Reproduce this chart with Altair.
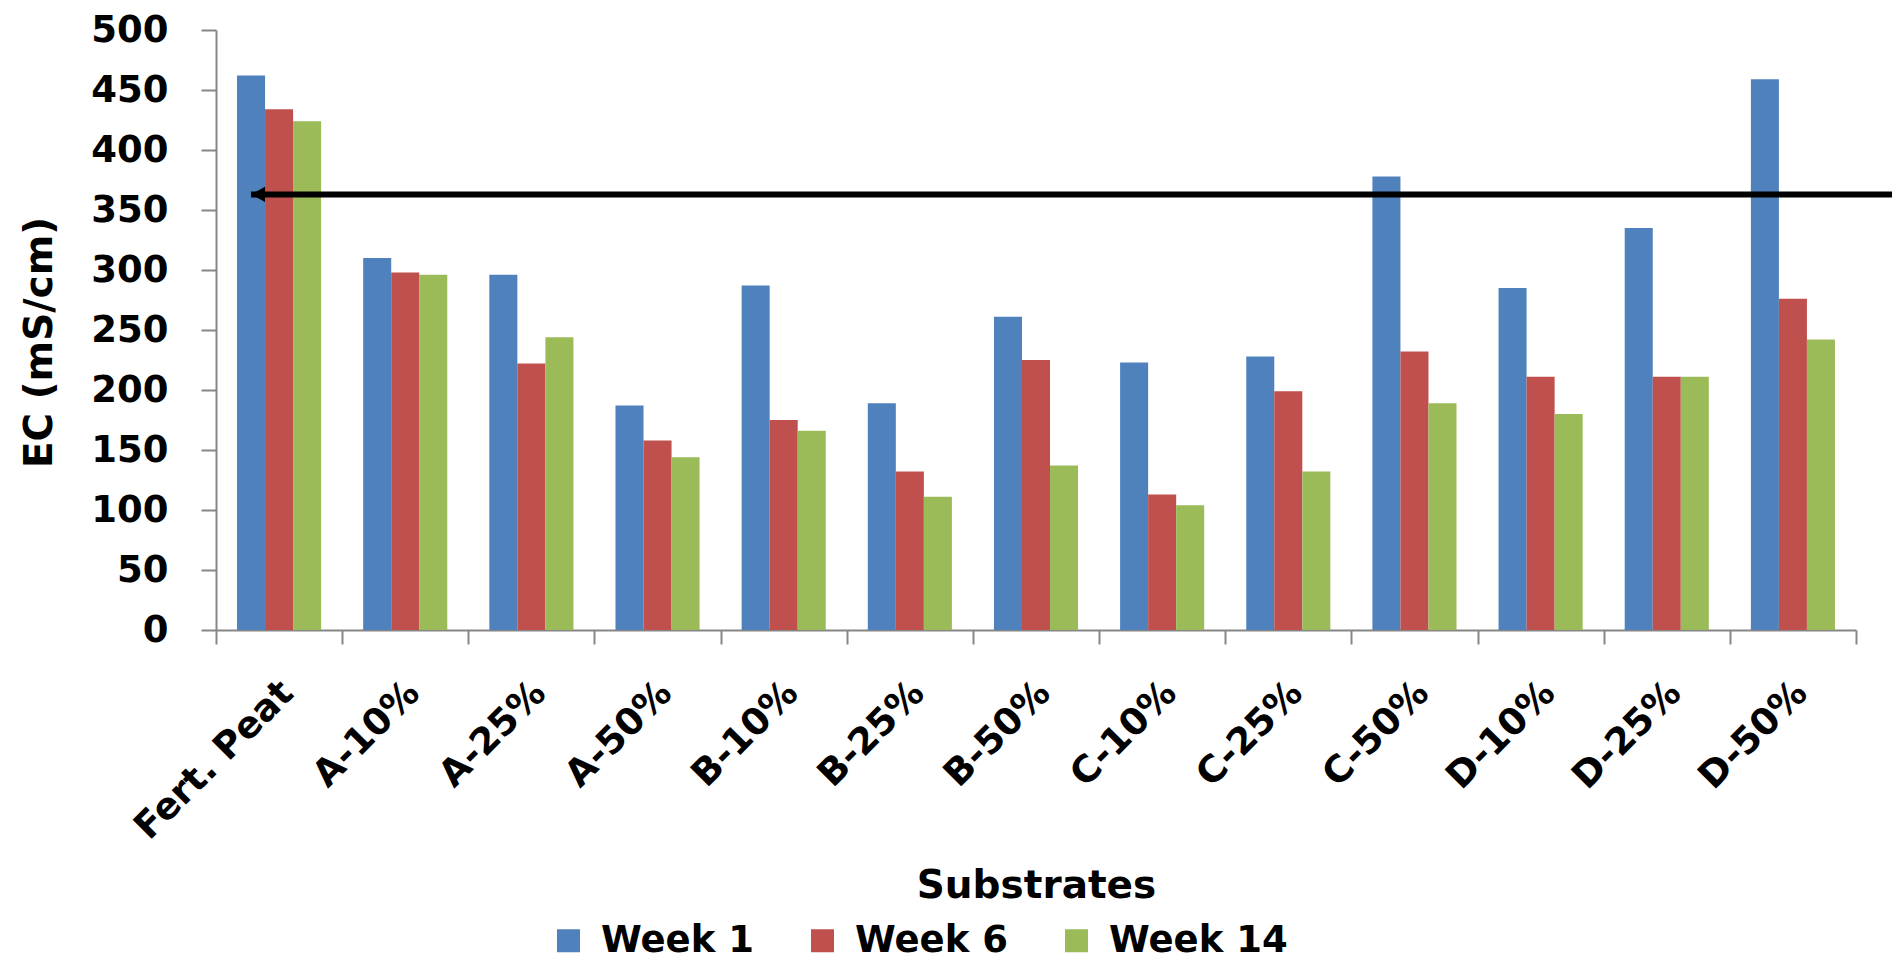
import altair as alt
import pandas as pd

substrates = ["Fert. Peat", "A-10%", "A-25%", "A-50%", "B-10%", "B-25%", "B-50%",
              "C-10%", "C-25%", "C-50%", "D-10%", "D-25%", "D-50%"]
weeks = ["Week 1", "Week 6", "Week 14"]
week1 = [462, 310, 296, 187, 287, 189, 261, 223, 228, 378, 285, 335, 459]
week6 = [434, 298, 222, 158, 175, 132, 225, 113, 199, 232, 211, 211, 276]
week14 = [424, 296, 244, 144, 166, 111, 137, 104, 132, 189, 180, 211, 242]
colors = ["#4F81BD", "#C0504D", "#9BBB59"]
y_ticks = [0, 50, 100, 150, 200, 250, 300, 350, 400, 450, 500]

# annotation arrow (points at Fert. Peat, Week 1 bar)
arrow_category = ["Fert. Peat"]
arrow_series = ["Week 1"]
arrow_value = [363]

rows = []
for w, vals in zip(weeks, [week1, week6, week14]):
    for s, v in zip(substrates, vals):
        rows.append({"Substrate": s, "Week": w, "EC": v})
df = pd.DataFrame(rows)
arrow_df = pd.DataFrame({"Substrate": arrow_category, "Week": arrow_series, "EC": arrow_value})

W, H = 1640, 600
FONT = "DejaVu Sans"
AXIS_GREY = "#868686"

x_scale = alt.Scale(domain=substrates, paddingInner=0, paddingOuter=0)
xo_scale = alt.Scale(domain=weeks, paddingInner=0, paddingOuter=0.75)
y_scale = alt.Scale(domain=[0, 500], nice=False)

x_axis = alt.Axis(
    title="Substrates", labelAngle=-45, labelAlign="right", labelBaseline="middle",
    labelPadding=43, labelOffset=8, labelFont=FONT, labelFontWeight="bold",
    labelFontSize=37, labelColor="black", labelLimit=400, labelOverlap=False,
    tickBand="extent", tickSize=14, tickColor=AXIS_GREY, tickWidth=2,
    domainColor=AXIS_GREY, domainWidth=2, grid=False,
    titleFont=FONT, titleFontWeight="bold", titleFontSize=39, titleColor="black",
    titleY=267, titleBaseline="alphabetic",
)
y_axis = alt.Axis(
    title="EC (mS/cm)", values=y_ticks, grid=False,
    labelFont=FONT, labelFontWeight="bold", labelFontSize=37, labelColor="black",
    labelPadding=33, tickSize=15, tickColor=AXIS_GREY, tickWidth=2,
    domainColor=AXIS_GREY, domainWidth=2,
    titleFont=FONT, titleFontWeight="bold", titleFontSize=39, titleColor="black",
    titleX=-177, titleY=312, titleAngle=-90, titleAlign="center", titleBaseline="middle",
)

bars = alt.Chart(df).mark_bar().encode(
    x=alt.X("Substrate:N", scale=x_scale, axis=x_axis, sort=substrates),
    xOffset=alt.XOffset("Week:N", scale=xo_scale, sort=weeks),
    y=alt.Y("EC:Q", scale=y_scale, axis=y_axis),
    color=alt.Color(
        "Week:N", sort=weeks,
        scale=alt.Scale(domain=weeks, range=colors),
        legend=alt.Legend(
            title=None, orient="none", legendX=334, legendY=892,
            direction="horizontal", columns=3, symbolType="square", symbolSize=529,
            symbolStrokeWidth=0, labelFont=FONT, labelFontSize=37, labelFontWeight="bold",
            labelColor="black", labelOffset=14, columnPadding=50, padding=0, labelLimit=400,
        ),
    ),
)

arrow_line = alt.Chart(arrow_df).mark_rule(color="black", strokeWidth=6).encode(
    x=alt.X("Substrate:N", scale=x_scale, sort=substrates),
    xOffset=alt.XOffset("Week:N", scale=xo_scale, sort=weeks),
    x2=alt.value(W + 36),
    y=alt.Y("EC:Q", scale=y_scale),
)
arrow_head = alt.Chart(arrow_df).mark_point(
    shape="M 0 0 L 1 -0.55 L 1 0.55 Z", filled=True, color="black", opacity=1, size=784
).encode(
    x=alt.X("Substrate:N", scale=x_scale, sort=substrates),
    xOffset=alt.XOffset("Week:N", scale=xo_scale, sort=weeks),
    y=alt.Y("EC:Q", scale=y_scale),
)

chart = alt.layer(bars, arrow_line, arrow_head).properties(
    width=W, height=H,
    autosize=alt.AutoSizeParams(type="none"),
    padding={"left": 208, "top": 22, "right": 36, "bottom": 330},
    background="white",
).configure_view(strokeWidth=0)

chart.save("out.html", embed_options={"renderer": "svg", "actions": False})
